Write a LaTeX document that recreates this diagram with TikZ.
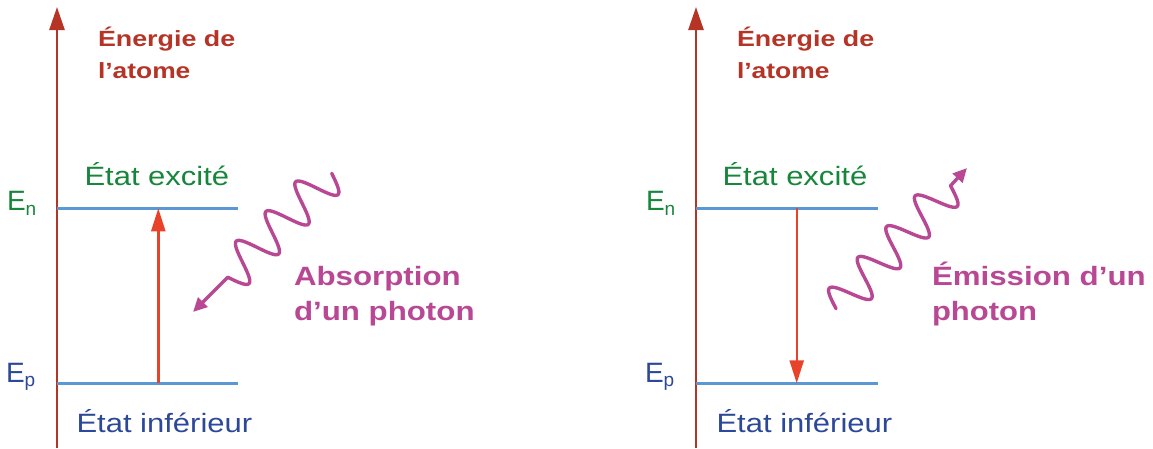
\documentclass[tikz,border=0pt]{standalone}
\usepackage{fontspec}
\setmainfont{Liberation Sans}
\usetikzlibrary{arrows.meta}
\definecolor{axisred}{RGB}{181,52,38}
\definecolor{arrred}{RGB}{233,66,42}
\definecolor{lvlblue}{RGB}{88,152,212}
\definecolor{txtgreen}{RGB}{22,134,58}
\definecolor{txtblue}{RGB}{44,72,152}
\definecolor{photoncol}{RGB}{184,72,148}
\newcommand{\wx}[2]{\scalebox{#1}[1]{#2}}
\begin{document}
\begin{tikzpicture}[x=1pt,y=-1pt,
  lbl/.style={inner sep=0pt, outer sep=0pt, anchor=base west},
  axisline/.style={draw=axisred, line width=2.6pt, -{Triangle[length=23pt,width=15pt]}},
  level/.style={draw=lvlblue, line width=2.5pt},
  transarrow/.style={draw=arrred, line width=2.4pt, -{Triangle[length=23pt,width=14pt]}},
  photonline/.style={draw=photoncol, line width=3.4pt, line join=round, line cap=round, -{Triangle[length=14pt,width=13pt]}},
  energytxt/.style={lbl, text=axisred, font=\fontsize{22}{24}\selectfont\bfseries},
  statetxt/.style={lbl, font=\fontsize{26.5}{30}\selectfont},
  photontxt/.style={lbl, text=photoncol, font=\fontsize{26.5}{30}\selectfont\bfseries},
  levtxt/.style={lbl, font=\fontsize{28}{30}\selectfont},
]
\useasboundingbox (0,0) rectangle (1153,448);

% ---------- left diagram ----------
\coordinate (axLb) at (57,448);
\coordinate (axLt) at (57,7);
\draw[axisline] (axLb) -- (axLt);
\coordinate (enL0) at (57,208.3);
\coordinate (enL1) at (238,208.3);
\coordinate (epL0) at (57,383.3);
\coordinate (epL1) at (238,383.3);
\draw[level] (enL0) -- (enL1);
\draw[level] (epL0) -- (epL1);
\coordinate (upA) at (158.3,383.3);
\coordinate (upB) at (158.3,208.3);
\draw[transarrow] (upA) -- (upB);

\node[energytxt] (enerL1) at (98,46.5) {\wx{1.22}{Énergie de}};
\node[energytxt] (enerL2) at (98,78.5) {\wx{1.2}{l’atome}};
\node[statetxt, text=txtgreen] (excL) at (84.5,185) {\wx{1.17}{État excité}};
\node[statetxt, text=txtblue] (infL) at (76.5,432.3) {\wx{1.17}{État inférieur}};
\node[levtxt, text=txtgreen] (EnL) at (7,210) {E\raisebox{-5pt}{\fontsize{19}{20}\selectfont n}};
\node[levtxt, text=txtblue] (EpL) at (6,382) {E\raisebox{-4pt}{\fontsize{19}{20}\selectfont p}};
\node[photontxt] (absA) at (294,285) {\wx{1.18}{Absorption}};
\node[photontxt] (absB) at (294,320) {\wx{1.18}{d’un photon}};

\begin{scope}[shift={(337,168)}, rotate=225]
  \draw[photonline] plot[domain=7.5:154.5, samples=160, smooth] (\x, {-19.5*sin((\x-7.5)*8.5714)}) -- (203.6,0);
\end{scope}

% ---------- right diagram ----------
\coordinate (axRb) at (696,448);
\coordinate (axRt) at (696,7);
\draw[axisline] (axRb) -- (axRt);
\coordinate (enR0) at (696,208.3);
\coordinate (enR1) at (877.7,208.3);
\coordinate (epR0) at (696,383.3);
\coordinate (epR1) at (877.7,383.3);
\draw[level] (enR0) -- (enR1);
\draw[level] (epR0) -- (epR1);
\coordinate (dnA) at (796.7,208.3);
\coordinate (dnB) at (796.7,383.3);
\draw[transarrow] (dnA) -- (dnB);

\node[energytxt] (enerR1) at (737,46.5) {\wx{1.22}{Énergie de}};
\node[energytxt] (enerR2) at (737,78.5) {\wx{1.2}{l’atome}};
\node[statetxt, text=txtgreen] (excR) at (722.5,185) {\wx{1.17}{État excité}};
\node[statetxt, text=txtblue] (infR) at (716.5,432.3) {\wx{1.17}{État inférieur}};
\node[levtxt, text=txtgreen] (EnR) at (646,210) {E\raisebox{-5pt}{\fontsize{19}{20}\selectfont n}};
\node[levtxt, text=txtblue] (EpR) at (645,382) {E\raisebox{-4pt}{\fontsize{19}{20}\selectfont p}};
\node[photontxt] (emiA) at (932,285.5) {\wx{1.18}{Émission d’un}};
\node[photontxt] (emiB) at (932,320) {\wx{1.17}{photon}};

\begin{scope}[shift={(833,312)}, rotate=47.06]
  \draw[photonline] plot[domain=4.5:172.5, samples=180, smooth] (\x, {-19*cos((\x-15)*8.5714)}) -- (196.7,0);
\end{scope}
\end{tikzpicture}
\end{document}
